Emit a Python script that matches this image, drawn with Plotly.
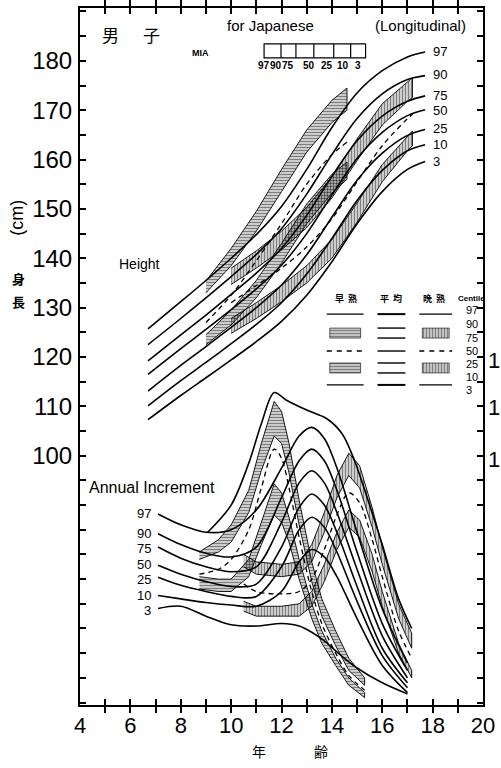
import plotly.graph_objects as go

# ---------------- data ----------------
# Height (cm), average maturers, 7 centiles
AGE_H = [6.7, 8, 9, 10, 11, 12, 13, 14, 15, 16, 17, 17.7]
H_AVG_97 = [125.7, 131.2, 135.5, 140.0, 144.8, 150.5, 158.0, 166.5, 173.5, 178.0, 180.8, 181.8]
H_AVG_90 = [122.5, 127.8, 132.0, 136.3, 140.8, 146.0, 153.0, 161.0, 168.3, 173.3, 176.2, 177.0]
H_AVG_75 = [119.2, 124.5, 128.5, 132.7, 137.0, 142.0, 148.7, 156.6, 163.8, 168.8, 171.8, 172.9]
H_AVG_50 = [116.5, 121.7, 125.6, 129.6, 133.8, 138.6, 145.0, 152.8, 160.2, 165.5, 168.9, 170.1]
H_AVG_25 = [113.1, 118.3, 122.1, 126.0, 130.0, 134.6, 140.7, 148.3, 155.8, 161.3, 164.9, 166.1]
H_AVG_10 = [110.1, 115.2, 118.9, 122.7, 126.6, 131.0, 136.8, 144.0, 151.7, 157.8, 161.8, 163.0]
H_AVG_3 = [107.3, 112.2, 115.8, 119.4, 123.1, 127.2, 132.5, 139.3, 147.0, 153.5, 158.0, 159.6]

# Height, early maturers
AGE_HE = [9, 10, 11, 12, 13, 14, 14.6]
H_E_90 = [135.4, 142.0, 149.5, 158.0, 166.0, 172.0, 174.5]
H_E_75 = [133.0, 138.5, 145.5, 153.5, 161.5, 167.5, 170.0]
H_E_50 = [127.0, 132.5, 139.5, 147.0, 155.0, 161.0, 163.5]
H_E_25 = [124.5, 129.5, 135.5, 143.0, 151.0, 157.0, 159.5]
H_E_10 = [122.5, 126.5, 132.0, 139.0, 147.0, 153.2, 156.0]

# Height, late maturers
AGE_HL = [10, 11, 12, 13, 14, 15, 16, 17, 17.2]
H_L_90 = [138.0, 141.5, 145.5, 150.3, 156.5, 164.2, 171.3, 175.8, 176.6]
H_L_75 = [134.7, 138.0, 141.7, 146.2, 152.2, 159.8, 167.0, 171.8, 172.6]
H_L_50 = [131.0, 134.5, 138.0, 142.3, 148.0, 155.5, 162.8, 168.3, 169.2]
H_L_25 = [127.8, 131.0, 134.5, 138.5, 143.8, 151.2, 159.0, 164.8, 165.8]
H_L_10 = [124.8, 127.8, 131.2, 135.0, 140.0, 147.3, 155.5, 161.8, 162.8]

# Annual increment (cm / year), average maturers
AGE_I = [7.1, 8, 9, 10, 11, 12, 12.7, 13.2, 13.7, 14.2, 15, 16, 17]
I_AVG_97 = [7.74, 7.30, 7.00, 7.10, 7.90, 9.60, 10.90, 11.25, 10.80, 9.60, 7.00, 3.90, 1.70]
I_AVG_90 = [6.94, 6.50, 6.15, 6.00, 6.40, 8.40, 9.90, 10.37, 9.90, 8.70, 6.20, 3.30, 1.40]
I_AVG_75 = [6.40, 5.95, 5.60, 5.40, 5.60, 7.40, 9.00, 9.49, 9.00, 7.80, 5.50, 2.80, 1.10]
I_AVG_50 = [5.66, 5.30, 5.00, 4.80, 4.90, 6.40, 8.00, 8.55, 8.10, 7.00, 4.80, 2.30, 0.90]
I_AVG_25 = [5.18, 4.85, 4.60, 4.40, 4.40, 5.60, 7.10, 7.61, 7.20, 6.20, 4.20, 2.00, 0.70]
I_AVG_10 = [4.44, 4.30, 4.15, 4.05, 4.00, 4.60, 5.80, 6.30, 6.00, 5.20, 3.50, 1.60, 0.50]
I_AVG_3 = [3.91, 4.00, 3.60, 3.25, 3.20, 3.30, 3.20, 2.95, 2.60, 2.15, 1.50, 0.90, 0.45]

# Annual increment, early maturers
AGE_IE97 = [9.07, 10, 10.7, 11.2, 11.71, 12.2, 13.0, 13.8, 14.4, 14.9, 15.5, 16, 16.65, 17.17]
I_E_97 = [7.00, 8.10, 9.80, 11.40, 12.66, 12.35, 11.95, 11.60, 11.00, 9.90, 8.10, 6.50, 4.30, 3.10]
AGE_IE = [8.74, 9.5, 10, 10.7, 11.2, 11.71, 12.0, 12.3, 12.7, 13.2, 13.6, 14.15, 14.67, 15.3]
I_E_90 = [6.20, 6.70, 7.30, 8.70, 10.60, 12.30, 11.90, 10.60, 8.30, 5.80, 4.30, 3.00, 1.90, 1.10]
I_E_75 = [5.90, 6.20, 6.60, 7.80, 9.50, 10.90, 10.60, 9.40, 7.30, 5.00, 3.60, 2.40, 1.40, 0.80]
I_E_50 = [5.30, 5.50, 5.90, 7.10, 8.80, 10.37, 10.00, 8.80, 6.80, 4.60, 3.30, 2.10, 1.20, 0.60]
I_E_25 = [5.20, 5.10, 5.10, 5.90, 7.40, 8.96, 8.60, 7.60, 5.90, 4.10, 3.00, 1.90, 1.10, 0.50]
I_E_10 = [4.70, 4.60, 4.60, 5.20, 6.50, 7.70, 7.40, 6.60, 5.10, 3.50, 2.50, 1.60, 0.80, 0.30]

# Annual increment, late maturers
AGE_IL = [10.5, 11, 12, 12.7, 13.2, 13.7, 14.2, 14.67, 15.1, 15.6, 16, 16.65, 17.17]
I_L_90 = [6.10, 5.80, 5.70, 5.80, 6.50, 7.80, 9.30, 10.20, 9.70, 8.00, 6.40, 4.10, 2.90]
I_L_75 = [5.60, 5.30, 5.20, 5.30, 5.80, 7.00, 8.40, 9.30, 8.80, 7.20, 5.70, 3.50, 2.30]
I_L_50 = [4.90, 4.60, 4.50, 4.60, 5.10, 6.30, 7.70, 8.60, 8.20, 6.70, 5.20, 3.00, 1.90]
I_L_25 = [4.20, 4.00, 4.00, 4.10, 4.60, 5.70, 7.00, 7.90, 7.50, 6.10, 4.60, 2.50, 1.40]
I_L_10 = [3.80, 3.60, 3.60, 3.60, 4.00, 5.00, 6.30, 7.20, 6.80, 5.40, 4.00, 2.10, 1.10]

CENTILES = ["97", "90", "75", "50", "25", "10", "3"]
X_TICKS = list(range(4, 21))
Y_TICKS = list(range(50, 191, 5))

# ---------------- layout geometry ----------------
W, H = 501, 768
PL, PR, PT, PB = 80, 485, 6, 705          # plot area in pixels
YMIN = 100 - (PB - 455) / 4.95
YMAX = 100 + (455 - PT) / 4.95
INC_MAX = (YMAX - YMIN) / 5.0


def px(xp):  # pixel -> paper x
    return (xp - PL) / (PR - PL)


def py(yp):  # pixel -> paper y
    return (PB - yp) / (PB - PT)


def dx(xp):  # pixel -> age
    return 4 + (xp - PL) / ((PR - PL) / 16)


def dy(yp):  # pixel -> height value
    return 100 + (455 - yp) / 4.95


SANS = "Liberation Sans, Arial, sans-serif"
CJK = "Noto Sans CJK JP, sans-serif"

fig = go.Figure()


def line(x, y, axis="y", dash="solid", width=1.6):
    fig.add_trace(go.Scatter(x=x, y=y, yaxis=axis, mode="lines",
                             line=dict(color="black", width=width, dash=dash, shape="spline", smoothing=0.9),
                             hoverinfo="skip", showlegend=False))


def band(x, upper, lower, shape, axis="y", size=3, solidity=0.6):
    fig.add_trace(go.Scatter(x=list(x) + list(x)[::-1], y=list(upper) + list(lower)[::-1], yaxis=axis,
                             mode="lines", fill="toself", fillcolor="rgba(0,0,0,0)",
                             fillpattern=dict(shape=shape, fgcolor="black", bgcolor="rgba(0,0,0,0)",
                                              size=size, solidity=solidity),
                             line=dict(color="black", width=0.9),
                             hoverinfo="skip", showlegend=False))


# ----- height chart -----
for arr in [H_AVG_97, H_AVG_90, H_AVG_75, H_AVG_50, H_AVG_25, H_AVG_10, H_AVG_3]:
    line(AGE_H, arr)
band(AGE_HE, H_E_90, H_E_75, "-")
band(AGE_HE, H_E_25, H_E_10, "-")
line(AGE_HE, H_E_50, dash="5px,4px", width=1.3)
band(AGE_HL, H_L_90, H_L_75, "|")
band(AGE_HL, H_L_25, H_L_10, "|")
line(AGE_HL, H_L_50, dash="5px,4px", width=1.3)

# ----- increment chart -----
for arr in [I_AVG_97, I_AVG_90, I_AVG_75, I_AVG_50, I_AVG_25, I_AVG_10, I_AVG_3]:
    line(AGE_I, arr, axis="y2")
line(AGE_IE97, I_E_97, axis="y2")
band(AGE_IE, I_E_90, I_E_75, "-", axis="y2")
band(AGE_IE, I_E_25, I_E_10, "-", axis="y2")
line(AGE_IE, I_E_50, axis="y2", dash="5px,4px", width=1.3)
band(AGE_IL, I_L_90, I_L_75, "|", axis="y2")
band(AGE_IL, I_L_25, I_L_10, "|", axis="y2")
line(AGE_IL, I_L_50, axis="y2", dash="5px,4px", width=1.3)

# ----- legend table (early / average / late) -----
COLS = [(328, 365), (379, 407), (421, 454)]
ROW_97, ROW_90_75, ROW_50, ROW_25_10, ROW_3 = 313, (327, 337), 350, (362, 372), 384
for i, (a, b) in enumerate(COLS):
    for r in (ROW_97, ROW_3):
        fig.add_trace(go.Scatter(x=[dx(a), dx(b)], y=[dy(r)] * 2, mode="lines",
                                 line=dict(color="black", width=1.4 if i != 1 else 2),
                                 hoverinfo="skip", showlegend=False))
    if i == 1:
        for r in list(ROW_90_75) + list(ROW_25_10) + [ROW_50]:
            fig.add_trace(go.Scatter(x=[dx(a), dx(b)], y=[dy(r)] * 2, mode="lines",
                                     line=dict(color="black", width=1.4), hoverinfo="skip", showlegend=False))
    else:
        shp = "-" if i == 0 else "|"
        for (r0, r1) in [ROW_90_75, ROW_25_10]:
            fig.add_trace(go.Scatter(x=[dx(a + 3), dx(b - 3), dx(b - 3), dx(a + 3), dx(a + 3)],
                                     y=[dy(r0), dy(r0), dy(r1), dy(r1), dy(r0)], mode="lines", fill="toself",
                                     fillcolor="rgba(0,0,0,0)",
                                     fillpattern=dict(shape=shp, fgcolor="black", bgcolor="rgba(0,0,0,0)",
                                                      size=3, solidity=0.65),
                                     line=dict(color="black", width=0.6), hoverinfo="skip", showlegend=False))
        fig.add_trace(go.Scatter(x=[dx(a), dx(b)], y=[dy(ROW_50)] * 2, mode="lines",
                                 line=dict(color="black", width=1.3, dash="5px,5px"), hoverinfo="skip",
                                 showlegend=False))

ann = []


def text(t, xp, yp, size, font=SANS, xanchor="center", angle=0, bold=False):
    ann.append(dict(text=("<b>%s</b>" % t) if bold else t, x=px(xp), y=py(yp), xref="paper", yref="paper",
                    showarrow=False, xanchor=xanchor, yanchor="middle", textangle=angle,
                    font=dict(size=size, family=font, color="black")))


# header texts
text("男", 111, 33, 17, CJK)
text("子", 152, 33, 17, CJK)
text("for Japanese", 271, 24, 15)
text("(Longitudinal)", 422, 24, 15)
text("MIA", 201, 51, 9, SANS, bold=True)
text("Height", 140, 263, 14)
text("Annual Increment", 152, 487, 16)

# MIA box
BOX_X = [265, 282, 297, 315, 335, 352, 367]
shapes = [dict(type="rect", xref="paper", yref="paper", x0=px(265), x1=px(367), y0=py(56), y1=py(42),
               line=dict(color="black", width=1.2))]
for xb in BOX_X[1:-1]:
    shapes.append(dict(type="line", xref="paper", yref="paper", x0=px(xb), x1=px(xb), y0=py(56), y1=py(42),
                       line=dict(color="black", width=1.2)))
for lab, xl in zip(CENTILES, [265, 277, 289, 310, 328, 344, 359]):
    text(lab, xl, 64, 10, SANS, bold=True)

# right-end centile labels on height chart
for lab, yl in zip(CENTILES, [50, 73, 94, 109, 127, 143, 160]):
    text(lab, 433, yl, 13, SANS, xanchor="left")
# left-start centile labels on increment chart
for lab, yl in zip(CENTILES, [513, 533, 548, 564, 579, 595, 610]):
    text(lab, 153, yl, 13, SANS, xanchor="right")

# legend table header and labels
for t, xl in [("早  熟", 347), ("平  均", 393), ("晩  熟", 436)]:
    text(t, xl, 297, 9, CJK, bold=True)
text("Centile", 458, 297, 8, SANS, xanchor="left", bold=True)
for lab, yl in zip(CENTILES, [309, 323, 337, 350, 363, 376, 389]):
    text(lab, 466, yl, 11, SANS, xanchor="left")

# axis titles
text("(cm)", 17, 216, 18, SANS, angle=-90)
text("身", 18, 277, 13, CJK, bold=True)
text("長", 18, 300, 13, CJK, bold=True)
text("年", 260, 751, 14, CJK)
text("齢", 322, 751, 14, CJK)

# fragments of the neighbouring chart's scale visible at the right edge
for yl in [360, 407, 459]:
    text("1", 496, yl, 22, SANS)

fig.update_layout(
    width=W, height=H,
    margin=dict(l=PL, r=W - PR, t=PT, b=H - PB),
    paper_bgcolor="white", plot_bgcolor="white",
    showlegend=False,
    annotations=ann, shapes=shapes,
    xaxis=dict(range=[4, 20], tickvals=X_TICKS,
               ticktext=[str(v) if v % 2 == 0 else "" for v in X_TICKS],
               ticks="inside", ticklen=6, tickwidth=1.5, tickcolor="black",
               showline=True, linewidth=2, linecolor="black", mirror="allticks",
               showgrid=False, zeroline=False, ticklabelstandoff=0,
               tickfont=dict(size=22, family=SANS, color="black")),
    yaxis=dict(range=[YMIN, YMAX], tickvals=Y_TICKS,
               ticktext=[str(v) if (v % 10 == 0 and 100 <= v <= 180) else "" for v in Y_TICKS],
               ticks="inside", ticklen=6, tickwidth=1.5, tickcolor="black",
               showline=True, linewidth=2, linecolor="black", mirror="allticks",
               showgrid=False, zeroline=False, ticklabelstandoff=1,
               tickfont=dict(size=24, family=SANS, color="black")),
    yaxis2=dict(range=[0, INC_MAX], overlaying="y", visible=False),
)

fig.write_html("out.html")
